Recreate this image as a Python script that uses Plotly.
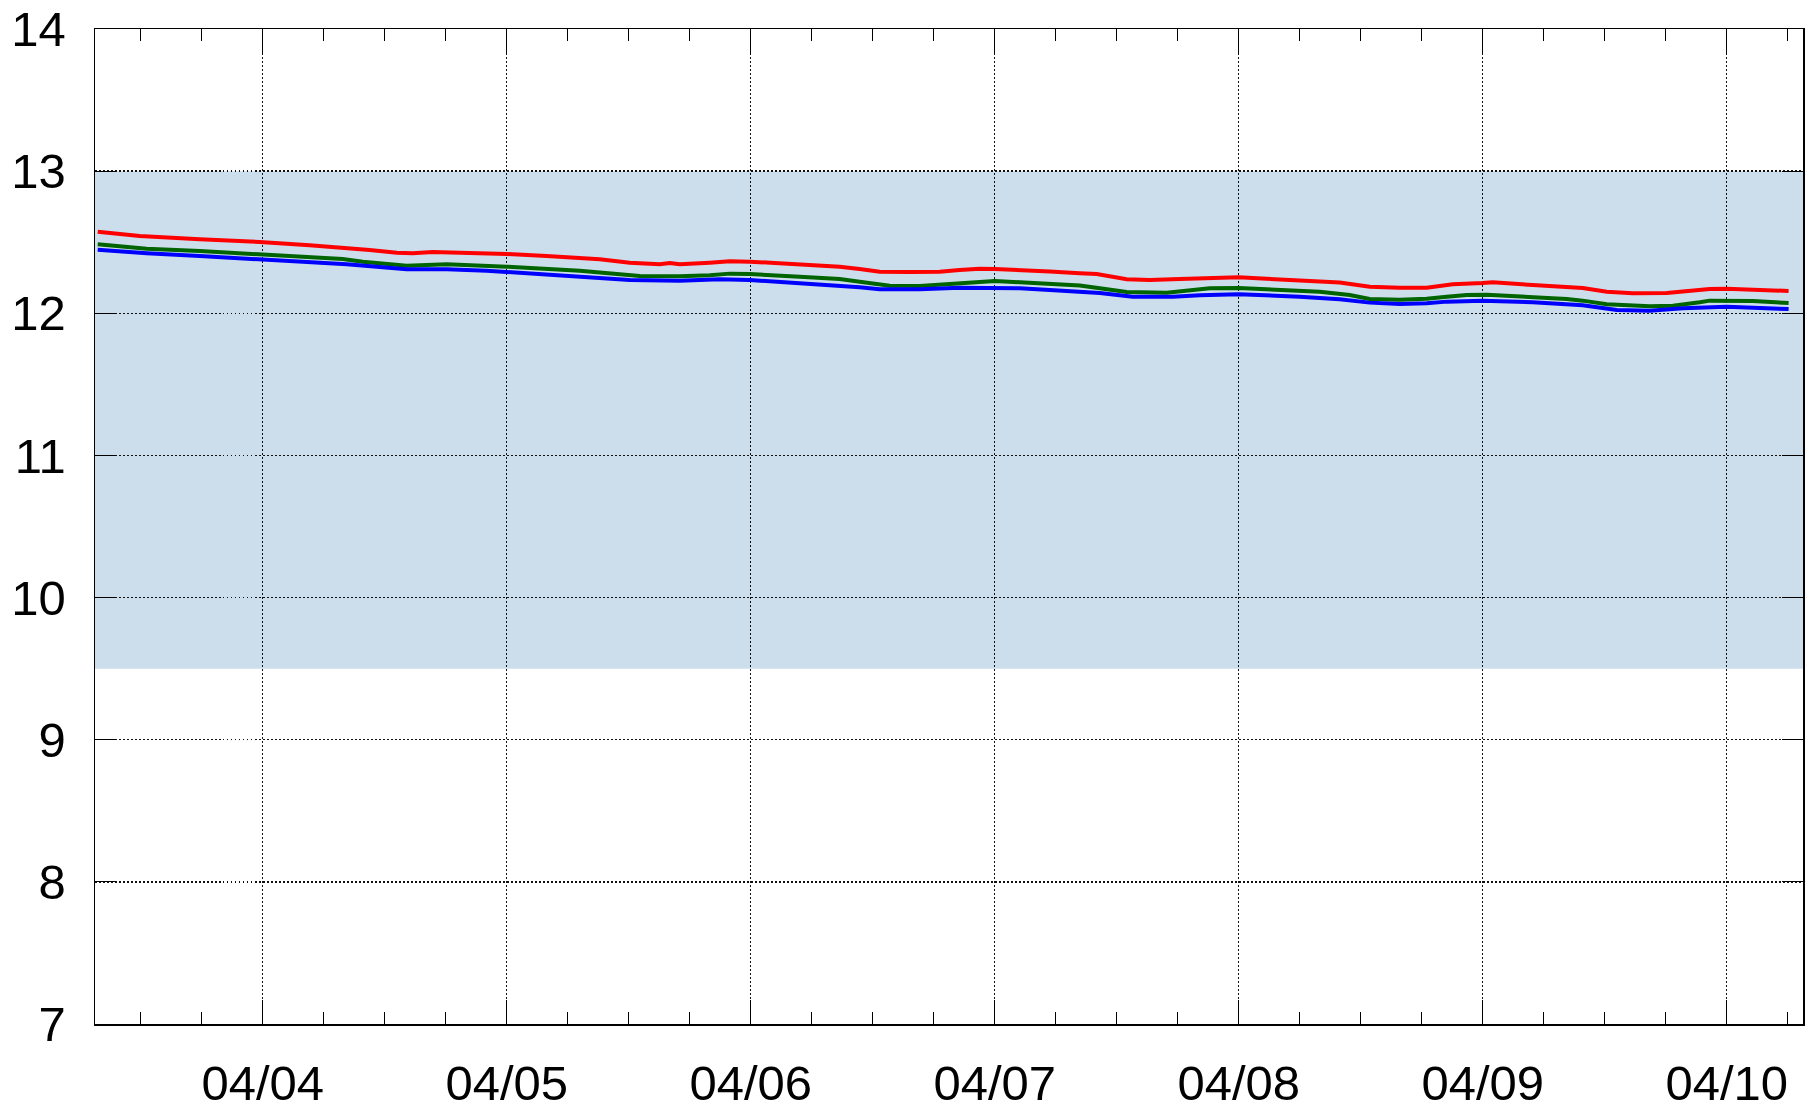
import plotly.graph_objects as go

# ---- data ----
times_red = [
    "2024-04-03 07:46", "2024-04-03 11:54", "2024-04-03 17:48", "2024-04-03 23:42",
    "2024-04-04 04:37", "2024-04-04 08:16", "2024-04-04 10:31", "2024-04-04 13:11",
    "2024-04-04 14:45", "2024-04-04 16:43", "2024-04-04 22:37", "2024-04-05 00:00",
    "2024-04-05 03:56", "2024-04-05 07:11", "2024-04-05 09:09", "2024-04-05 12:06",
    "2024-04-05 15:03", "2024-04-05 16:02", "2024-04-05 17:01", "2024-04-05 19:58",
    "2024-04-05 21:56", "2024-04-05 23:54", "2024-04-06 02:51", "2024-04-06 05:48",
    "2024-04-06 08:45", "2024-04-06 10:43", "2024-04-06 12:41", "2024-04-06 15:38",
    "2024-04-06 18:35", "2024-04-06 20:33", "2024-04-06 22:31", "2024-04-07 00:00",
    "2024-04-07 02:28", "2024-04-07 05:25", "2024-04-07 08:22", "2024-04-07 10:02",
    "2024-04-07 12:59", "2024-04-07 15:15", "2024-04-07 18:12", "2024-04-07 21:09",
    "2024-04-08 00:00", "2024-04-08 02:45", "2024-04-08 06:00", "2024-04-08 09:56",
    "2024-04-08 12:53", "2024-04-08 15:50", "2024-04-08 18:29", "2024-04-08 21:03",
    "2024-04-09 00:00", "2024-04-09 00:59", "2024-04-09 04:55", "2024-04-09 08:16",
    "2024-04-09 09:50", "2024-04-09 12:12", "2024-04-09 14:45", "2024-04-09 18:06",
    "2024-04-09 20:04", "2024-04-09 22:19", "2024-04-10 00:00", "2024-04-10 02:57",
    "2024-04-10 06:05",
]
red = [
    12.574, 12.544, 12.521, 12.502,
    12.478, 12.461, 12.445, 12.426,
    12.422, 12.431, 12.424, 12.417,
    12.403, 12.391, 12.380, 12.356,
    12.345, 12.354, 12.345, 12.356,
    12.366, 12.363, 12.352, 12.340,
    12.328, 12.312, 12.293, 12.291,
    12.293, 12.305, 12.314, 12.312,
    12.305, 12.294, 12.281, 12.276,
    12.239, 12.234, 12.241, 12.250,
    12.253, 12.243, 12.234, 12.217,
    12.187, 12.179, 12.180, 12.204,
    12.213, 12.218, 12.199, 12.187,
    12.178, 12.152, 12.141, 12.143,
    12.155, 12.171, 12.173, 12.164,
    12.157,
]

times_green = [
    "2024-04-03 07:46", "2024-04-03 12:35", "2024-04-03 17:48", "2024-04-03 23:42",
    "2024-04-04 07:52", "2024-04-04 09:50", "2024-04-04 14:10", "2024-04-04 18:06",
    "2024-04-04 22:02", "2024-04-05 00:00", "2024-04-05 07:11", "2024-04-05 09:09",
    "2024-04-05 13:05", "2024-04-05 17:01", "2024-04-05 19:58", "2024-04-05 21:56",
    "2024-04-05 23:54", "2024-04-06 04:49", "2024-04-06 08:45", "2024-04-06 10:43",
    "2024-04-06 13:40", "2024-04-06 16:37", "2024-04-06 19:34", "2024-04-06 21:32",
    "2024-04-07 00:00", "2024-04-07 02:28", "2024-04-07 05:25", "2024-04-07 08:22",
    "2024-04-07 10:20", "2024-04-07 12:59", "2024-04-07 16:55", "2024-04-07 19:11",
    "2024-04-07 21:09", "2024-04-08 00:00", "2024-04-08 04:02", "2024-04-08 07:58",
    "2024-04-08 10:55", "2024-04-08 12:53", "2024-04-08 15:50", "2024-04-08 18:29",
    "2024-04-08 20:28", "2024-04-08 22:25", "2024-04-09 00:23", "2024-04-09 03:20",
    "2024-04-09 08:16", "2024-04-09 09:50", "2024-04-09 12:12", "2024-04-09 16:26",
    "2024-04-09 18:42", "2024-04-09 21:21", "2024-04-09 22:20", "2024-04-10 02:34",
    "2024-04-10 06:05",
]
green = [
    12.485, 12.454, 12.438, 12.415,
    12.382, 12.363, 12.335, 12.345,
    12.335, 12.328, 12.300, 12.288,
    12.262, 12.260, 12.267, 12.279,
    12.276, 12.257, 12.241, 12.222,
    12.194, 12.192, 12.206, 12.222,
    12.227, 12.218, 12.210, 12.196,
    12.176, 12.150, 12.145, 12.159,
    12.176, 12.178, 12.164, 12.152,
    12.129, 12.101, 12.096, 12.103,
    12.117, 12.129, 12.131, 12.122,
    12.101, 12.089, 12.063, 12.049,
    12.053, 12.077, 12.089, 12.086,
    12.072,
]

times_blue = [
    "2024-04-03 07:46", "2024-04-03 12:35", "2024-04-03 17:48", "2024-04-03 23:42",
    "2024-04-04 08:16", "2024-04-04 14:10", "2024-04-04 18:06", "2024-04-04 22:02",
    "2024-04-05 00:00", "2024-04-05 07:11", "2024-04-05 09:09", "2024-04-05 12:06",
    "2024-04-05 17:01", "2024-04-05 20:57", "2024-04-05 23:54", "2024-04-06 02:51",
    "2024-04-06 06:47", "2024-04-06 10:43", "2024-04-06 12:41", "2024-04-06 16:37",
    "2024-04-06 20:33", "2024-04-07 00:00", "2024-04-07 02:28", "2024-04-07 05:25",
    "2024-04-07 10:20", "2024-04-07 13:34", "2024-04-07 17:31", "2024-04-07 20:10",
    "2024-04-08 00:00", "2024-04-08 06:00", "2024-04-08 09:56", "2024-04-08 12:53",
    "2024-04-08 15:50", "2024-04-08 18:29", "2024-04-08 20:28", "2024-04-09 00:00",
    "2024-04-09 04:55", "2024-04-09 09:50", "2024-04-09 13:11", "2024-04-09 16:26",
    "2024-04-09 19:40", "2024-04-10 00:00", "2024-04-10 03:14", "2024-04-10 06:05",
]
blue = [
    12.447, 12.422, 12.403, 12.380,
    12.345, 12.309, 12.309, 12.300,
    12.291, 12.262, 12.253, 12.234,
    12.229, 12.239, 12.234, 12.220,
    12.206, 12.183, 12.169, 12.169,
    12.180, 12.180, 12.176, 12.164,
    12.143, 12.117, 12.117, 12.127,
    12.134, 12.117, 12.098, 12.075,
    12.065, 12.070, 12.082, 12.089,
    12.077, 12.056, 12.023, 12.018,
    12.035, 12.046, 12.035, 12.030,
]

band_low, band_high = 9.5, 13.0
x_range = ["2024-04-03 07:30", "2024-04-10 07:30"]
y_range = [7, 14]
y_ticks = [7, 8, 9, 10, 11, 12, 13, 14]

FONT = "Liberation Sans, Arial, Helvetica, sans-serif"

fig = go.Figure()
fig.add_shape(type="rect", xref="paper", yref="y", x0=0, x1=1,
              y0=band_low, y1=band_high, fillcolor="#ccddec",
              line=dict(width=0), layer="below")

for t, v, c in [(times_red, red, "#ff0000"),
                (times_green, green, "#006400"),
                (times_blue, blue, "#0000ff")]:
    fig.add_trace(go.Scatter(x=t, y=v, mode="lines",
                             line=dict(color=c, width=4), showlegend=False))

fig.update_layout(
    width=1811, height=1111,
    margin=dict(l=95, r=8, t=29, b=87, autoexpand=False),
    paper_bgcolor="white", plot_bgcolor="white",
    font=dict(family=FONT, size=49, color="black"),
    showlegend=False,
)
fig.update_xaxes(
    type="date", range=x_range, automargin=False,
    dtick=86400000, tick0="2024-04-04", tickformat="%m/%d",
    ticks="inside", ticklen=24, tickwidth=1.2, tickcolor="black",
    showline=True, linecolor="black", linewidth=1.5, mirror="allticks",
    showgrid=True, gridcolor="#111111", gridwidth=1.3, griddash="1.5px,2.5px",
    minor=dict(dtick=21600000, tick0="2024-04-04", ticks="inside",
               ticklen=12, tickwidth=1.2, tickcolor="black", showgrid=False),
    ticklabelstandoff=16, zeroline=False,
)
fig.update_yaxes(
    range=y_range, tickvals=y_ticks, automargin=False,
    ticks="inside", ticklen=21, tickwidth=1.2, tickcolor="black",
    showline=True, linecolor="black", linewidth=1.5, mirror="allticks",
    showgrid=True, gridcolor="#111111", gridwidth=1.3, griddash="1.5px,2.5px",
    ticklabelstandoff=18, zeroline=False,
)

fig.write_html(
    "out.html",
    config={"displayModeBar": False, "staticPlot": True},
    post_script="document.body.style.margin='0';document.body.style.overflow='hidden';",
)
